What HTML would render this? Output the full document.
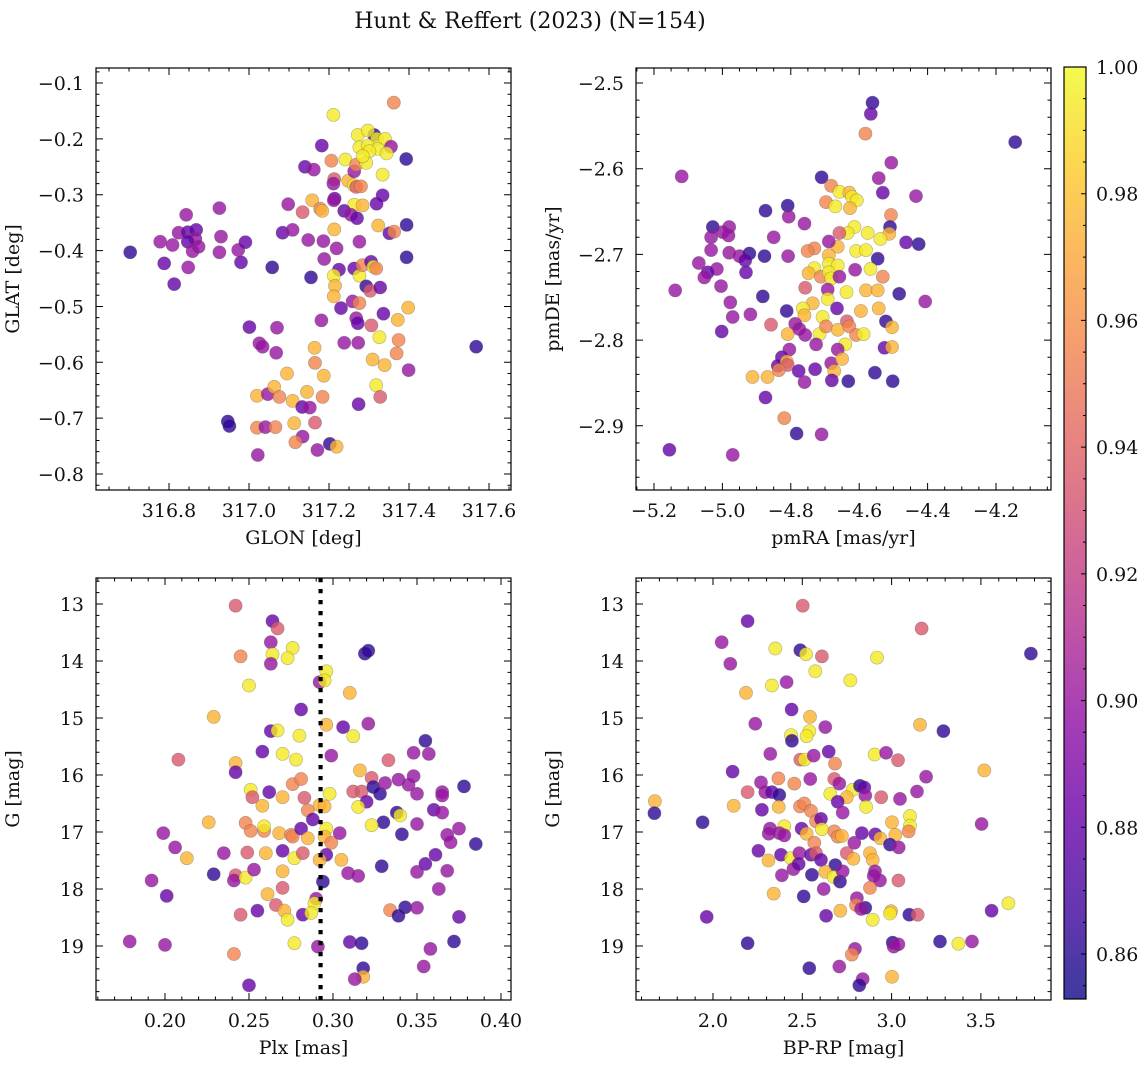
<!DOCTYPE html>
<html><head><meta charset="utf-8"><style>
html,body{margin:0;padding:0;background:#fff;}
svg{display:block;font-family:"DejaVu Serif","Liberation Serif",serif;}
</style></head><body>
<svg id="fig" width="1148" height="1067" viewBox="0 0 1148 1067" xmlns="http://www.w3.org/2000/svg">
<rect width="1148" height="1067" fill="#fff"/>
<text x="530" y="28" font-size="22" text-anchor="middle" fill="#111">Hunt &amp; Reffert (2023) (N=154)</text>
<defs>
<linearGradient id="plasma" x1="0" y1="1" x2="0" y2="0">
<stop offset="0" stop-color="#0d0887"/><stop offset="0.1" stop-color="#41049d"/><stop offset="0.2" stop-color="#6a00a8"/><stop offset="0.3" stop-color="#8f0da4"/><stop offset="0.4" stop-color="#b12a90"/><stop offset="0.5" stop-color="#cc4778"/><stop offset="0.6" stop-color="#e16462"/><stop offset="0.7" stop-color="#f2844b"/><stop offset="0.8" stop-color="#fca636"/><stop offset="0.9" stop-color="#fcce25"/><stop offset="1" stop-color="#f0f921"/>
</linearGradient>
</defs>
</svg>
<script>
// ---- Panel 1: GLON vs GLAT ----
const glon=[316.703,316.788,316.813,316.778,316.809,316.824,316.843,316.847,316.868,316.866,316.847,316.859,316.874,316.848,316.926,316.930,316.926,316.973,316.991,316.980,317.058,317.001,317.070,317.026,317.034,317.068,316.947,316.951,317.022,317.020,317.047,317.063,317.076,317.095,317.109,317.133,317.152,317.145,317.184,317.020,317.041,317.066,317.113,317.134,317.116,317.165,317.171,317.202,317.219,317.164,317.165,317.187,317.181,317.084,317.098,317.109,317.134,317.148,317.155,317.140,317.162,317.182,317.158,317.178,317.183,317.186,317.188,317.206,317.213,317.211,317.214,317.212,317.213,317.219,317.211,317.241,317.248,317.263,317.268,317.262,317.268,317.280,317.263,317.284,317.238,317.255,317.270,317.276,317.225,317.212,317.215,317.212,317.230,317.259,317.276,317.268,317.272,317.263,317.276,317.284,317.293,317.303,317.305,317.311,317.318,317.328,317.306,317.238,317.273,317.274,317.326,317.309,317.339,317.318,317.328,317.336,317.372,317.374,317.369,317.398,317.399,317.568,317.394,317.394,317.351,317.363,317.323,317.334,317.319,317.334,317.393,317.362,317.313,317.272,317.297,317.320,317.340,317.355,317.276,317.297,317.322,317.344,317.301,317.293,317.284];
const glat=[-0.403,-0.423,-0.460,-0.384,-0.390,-0.368,-0.336,-0.367,-0.363,-0.379,-0.384,-0.401,-0.393,-0.430,-0.324,-0.375,-0.403,-0.399,-0.385,-0.421,-0.430,-0.537,-0.538,-0.566,-0.572,-0.583,-0.706,-0.714,-0.766,-0.660,-0.657,-0.644,-0.662,-0.620,-0.669,-0.680,-0.681,-0.653,-0.662,-0.717,-0.716,-0.716,-0.709,-0.733,-0.743,-0.708,-0.757,-0.746,-0.751,-0.574,-0.601,-0.624,-0.525,-0.368,-0.317,-0.363,-0.331,-0.381,-0.448,-0.250,-0.255,-0.212,-0.310,-0.325,-0.329,-0.383,-0.415,-0.239,-0.272,-0.280,-0.307,-0.310,-0.362,-0.396,-0.157,-0.237,-0.275,-0.258,-0.246,-0.283,-0.286,-0.285,-0.318,-0.319,-0.329,-0.336,-0.342,-0.384,-0.434,-0.445,-0.463,-0.482,-0.503,-0.491,-0.494,-0.521,-0.530,-0.432,-0.445,-0.426,-0.464,-0.472,-0.420,-0.429,-0.432,-0.466,-0.534,-0.565,-0.565,-0.675,-0.555,-0.595,-0.605,-0.641,-0.662,-0.513,-0.524,-0.560,-0.584,-0.502,-0.614,-0.572,-0.354,-0.412,-0.369,-0.366,-0.355,-0.301,-0.316,-0.264,-0.236,-0.135,-0.193,-0.193,-0.185,-0.200,-0.200,-0.214,-0.215,-0.212,-0.218,-0.226,-0.222,-0.243,-0.231];
const prob1=[.862,.88,.88,.90,.90,.90,.90,.88,.88,.90,.88,.90,.90,.90,.90,.90,.90,.90,.88,.88,.862,.88,.90,.90,.90,.90,.862,.862,.90,.975,.90,.975,.955,.975,.975,.88,.90,.975,.955,.955,.90,.955,.975,.90,.955,.935,.90,.862,.975,.975,.955,.975,.90,.88,.90,.90,.935,.90,.862,.88,.90,.88,.975,.955,.975,.90,.90,.955,.935,.90,.88,.90,.975,.90,.995,.995,.975,.90,.955,.995,.935,.955,.995,.975,.88,.90,.88,.90,.88,.995,.975,.975,.88,.90,.955,.90,.88,.88,.995,.955,.862,.935,.88,.995,.955,.88,.935,.90,.90,.88,.995,.975,.975,.995,.935,.88,.975,.955,.955,.975,.90,.862,.862,.862,.88,.955,.975,.88,.88,.995,.862,.955,.862,.995,.995,.995,.995,.90,.995,.995,.995,.995,.995,.995,.995];
// ---- Panel 2: pmRA vs pmDE ----
const pmra=[-4.561,-4.566,-4.582,-4.144,-4.506,-5.119,-4.710,-4.543,-4.531,-4.434,-4.682,-4.658,-4.629,-4.621,-4.607,-4.697,-4.670,-4.627,-4.809,-4.874,-4.806,-4.760,-4.507,-4.510,-4.512,-4.538,-4.575,-4.614,-4.634,-4.658,-4.663,-4.689,-4.463,-4.426,-5.028,-4.980,-4.999,-5.033,-4.982,-4.850,-5.033,-4.980,-4.950,-4.921,-4.933,-4.877,-4.808,-4.731,-4.751,-4.689,-4.609,-4.580,-4.546,-5.069,-5.016,-5.043,-5.053,-4.931,-5.004,-5.138,-4.731,-4.748,-4.712,-4.689,-4.663,-4.689,-4.682,-4.658,-4.612,-4.567,-4.531,-4.758,-4.692,-4.637,-4.580,-4.546,-4.483,-4.407,-4.882,-4.692,-4.977,-4.736,-4.665,-4.765,-4.595,-4.543,-4.970,-4.918,-4.812,-4.760,-4.707,-4.787,-4.858,-4.636,-4.522,-4.504,-5.002,-4.809,-4.775,-4.758,-4.716,-4.697,-4.663,-4.629,-4.609,-4.587,-4.726,-4.641,-4.663,-4.526,-4.504,-4.804,-4.826,-4.838,-4.812,-4.809,-4.835,-4.912,-4.868,-4.777,-4.760,-4.729,-4.682,-4.673,-4.650,-4.680,-4.632,-4.554,-4.502,-4.874,-4.819,-4.783,-4.710,-5.155,-4.970];
const pmde=[-2.523,-2.536,-2.559,-2.569,-2.593,-2.609,-2.610,-2.611,-2.628,-2.632,-2.620,-2.627,-2.628,-2.633,-2.637,-2.639,-2.644,-2.646,-2.643,-2.649,-2.656,-2.664,-2.654,-2.668,-2.676,-2.682,-2.675,-2.668,-2.675,-2.675,-2.691,-2.685,-2.686,-2.688,-2.668,-2.668,-2.674,-2.680,-2.678,-2.680,-2.695,-2.698,-2.702,-2.699,-2.707,-2.702,-2.702,-2.693,-2.696,-2.701,-2.696,-2.695,-2.705,-2.710,-2.717,-2.721,-2.727,-2.721,-2.737,-2.742,-2.716,-2.722,-2.726,-2.711,-2.713,-2.721,-2.728,-2.726,-2.718,-2.717,-2.726,-2.739,-2.741,-2.744,-2.742,-2.742,-2.746,-2.755,-2.749,-2.752,-2.756,-2.757,-2.763,-2.763,-2.766,-2.763,-2.773,-2.770,-2.766,-2.771,-2.773,-2.781,-2.782,-2.778,-2.778,-2.785,-2.790,-2.793,-2.787,-2.794,-2.793,-2.784,-2.788,-2.784,-2.794,-2.793,-2.805,-2.805,-2.811,-2.809,-2.808,-2.811,-2.820,-2.830,-2.825,-2.829,-2.835,-2.843,-2.843,-2.836,-2.849,-2.834,-2.827,-2.836,-2.822,-2.847,-2.848,-2.838,-2.848,-2.867,-2.891,-2.909,-2.910,-2.928,-2.934];
const prob2=[.862,.88,.955,.862,.90,.90,.862,.90,.88,.90,.955,.995,.975,.995,.995,.955,.995,.975,.862,.862,.90,.90,.955,.862,.975,.995,.995,.995,.995,.935,.975,.90,.88,.862,.862,.90,.90,.90,.90,.90,.90,.90,.90,.862,.88,.862,.90,.955,.955,.975,.995,.995,.862,.90,.90,.88,.90,.88,.90,.90,.995,.975,.955,.995,.995,.995,.995,.90,.90,.995,.955,.935,.90,.995,.975,.975,.862,.90,.862,.995,.90,.975,.88,.995,.975,.975,.90,.90,.862,.975,.995,.90,.935,.935,.862,.975,.88,.975,.90,.90,.995,.955,.975,.955,.955,.995,.90,.995,.90,.88,.975,.90,.88,.88,.975,.935,.955,.975,.975,.88,.90,.88,.90,.975,.975,.88,.862,.862,.862,.88,.955,.862,.90,.88,.90];
// ---- Panel 3: Plx vs G ----
const plx=[0.242,0.264,0.267,0.263,0.264,0.276,0.273,0.263,0.245,0.250,0.296,0.292,0.295,0.319,0.321,0.310,0.229,0.281,0.263,0.267,0.280,0.296,0.306,0.321,0.312,0.208,0.258,0.270,0.278,0.299,0.333,0.355,0.348,0.357,0.242,0.242,0.316,0.323,0.276,0.281,0.251,0.262,0.252,0.270,0.258,0.283,0.285,0.288,0.292,0.295,0.298,0.312,0.317,0.324,0.328,0.331,0.339,0.345,0.348,0.350,0.365,0.365,0.378,0.320,0.315,0.338,0.340,0.330,0.360,0.365,0.323,0.226,0.248,0.251,0.259,0.259,0.268,0.275,0.276,0.281,0.285,0.296,0.295,0.299,0.304,0.350,0.341,0.368,0.370,0.375,0.385,0.199,0.206,0.213,0.235,0.249,0.260,0.270,0.277,0.282,0.296,0.292,0.305,0.361,0.355,0.329,0.229,0.242,0.241,0.248,0.253,0.270,0.309,0.315,0.350,0.368,0.294,0.192,0.201,0.261,0.270,0.266,0.271,0.273,0.290,0.289,0.282,0.287,0.255,0.245,0.334,0.343,0.339,0.350,0.363,0.375,0.179,0.200,0.241,0.277,0.291,0.310,0.317,0.372,0.358,0.354,0.318,0.318,0.313,0.250];
const gmag3=[13.03,13.30,13.43,13.67,13.88,13.77,13.95,14.05,13.92,14.43,14.18,14.37,14.34,13.87,13.82,14.56,14.98,14.85,15.23,15.22,15.31,15.12,15.16,15.10,15.32,15.73,15.59,15.63,15.73,15.66,15.74,15.40,15.61,15.63,15.79,15.95,15.92,16.05,16.16,16.07,16.26,16.30,16.39,16.39,16.54,16.40,16.62,16.78,16.53,16.55,16.33,16.29,16.29,16.21,16.33,16.14,16.08,16.17,16.02,16.33,16.30,16.36,16.20,16.47,16.56,16.66,16.71,16.83,16.61,16.66,16.88,16.83,16.84,16.98,16.98,16.90,17.02,17.05,17.08,16.94,17.11,16.94,17.08,17.19,17.02,16.86,17.04,17.05,17.18,16.94,17.21,17.02,17.27,17.46,17.37,17.36,17.37,17.33,17.46,17.37,17.40,17.49,17.49,17.40,17.56,17.60,17.74,17.76,17.85,17.80,17.66,17.69,17.72,17.77,17.70,17.68,17.87,17.85,18.12,18.09,17.98,18.28,18.38,18.54,18.17,18.25,18.45,18.42,18.38,18.45,18.37,18.32,18.47,18.33,18.00,18.49,18.92,18.98,19.14,18.95,19.01,18.93,18.95,18.92,19.05,19.36,19.39,19.54,19.58,19.69];
const prob3=[.935,.88,.935,.90,.995,.995,.995,.90,.955,.995,.995,.90,.995,.862,.862,.975,.975,.88,.88,.995,.995,.975,.88,.90,.995,.935,.88,.995,.995,.90,.935,.862,.90,.90,.975,.88,.975,.935,.955,.955,.995,.88,.935,.975,.975,.935,.955,.88,.975,.975,.995,.935,.935,.862,.862,.90,.90,.90,.90,.90,.90,.90,.862,.88,.995,.862,.995,.862,.88,.90,.995,.975,.955,.955,.955,.995,.975,.955,.955,.88,.975,.995,.975,.955,.90,.90,.862,.90,.90,.90,.862,.90,.90,.975,.90,.935,.975,.88,.995,.935,.88,.975,.975,.88,.88,.862,.862,.935,.90,.995,.90,.975,.90,.90,.90,.90,.862,.90,.88,.975,.935,.935,.975,.995,.90,.995,.88,.995,.88,.935,.955,.862,.862,.90,.90,.88,.90,.90,.955,.995,.90,.88,.862,.862,.90,.90,.862,.975,.90,.88];
const plxRef=[0.2926];
// ---- Panel 4: BP-RP vs G ----
const bprp=[2.502,2.194,2.049,2.097,3.168,2.349,2.489,2.521,2.610,2.918,3.780,2.573,2.769,2.330,2.412,2.185,2.440,2.237,2.543,3.159,2.629,3.290,2.437,2.442,2.539,2.524,2.321,2.489,2.513,2.564,2.648,2.683,2.905,2.969,3.036,3.519,2.110,2.269,2.366,2.455,2.545,2.679,2.707,2.194,2.293,2.330,2.371,2.657,2.782,2.749,2.823,2.847,2.853,2.942,3.047,3.193,3.142,1.675,1.672,2.116,2.274,2.368,2.487,2.511,2.549,2.698,2.726,2.857,1.942,2.577,2.605,3.002,3.103,3.103,3.095,3.504,2.399,2.319,2.312,2.371,2.399,2.496,2.524,2.610,2.679,2.698,2.722,2.834,2.909,2.937,3.021,2.567,2.791,2.991,3.040,2.254,2.381,2.437,2.484,2.549,2.577,2.605,2.749,2.786,2.879,2.894,2.310,2.450,2.480,2.685,2.629,2.676,2.711,2.726,2.907,2.900,2.935,3.038,2.386,2.554,2.620,2.879,2.340,2.508,2.806,2.801,2.853,2.829,2.713,2.894,2.633,2.997,2.991,3.099,3.146,1.965,3.654,3.560,2.194,3.006,3.012,3.038,3.271,3.374,3.450,2.795,2.778,2.539,2.707,3.002,2.838,2.819];
const gmag4=[13.03,13.30,13.67,14.05,13.43,13.78,13.81,13.88,13.92,13.94,13.87,14.18,14.34,14.43,14.37,14.56,14.85,15.10,14.98,15.12,15.16,15.23,15.30,15.40,15.23,15.32,15.63,15.73,15.73,15.66,15.59,15.80,15.64,15.61,15.74,15.92,15.94,16.13,16.06,16.15,16.07,16.07,16.15,16.30,16.30,16.30,16.35,16.33,16.26,16.39,16.19,16.22,16.36,16.39,16.42,16.03,16.29,16.46,16.67,16.54,16.61,16.56,16.55,16.50,16.63,16.47,16.66,16.56,16.83,16.81,16.77,16.83,16.72,16.89,16.99,16.86,16.90,16.94,17.03,17.02,17.06,16.94,17.03,16.95,16.99,17.08,17.07,17.02,17.04,17.11,17.05,17.19,17.19,17.22,17.27,17.33,17.40,17.46,17.37,17.40,17.37,17.49,17.37,17.47,17.37,17.49,17.50,17.65,17.56,17.58,17.70,17.79,17.87,17.69,17.69,17.77,17.85,17.85,17.76,17.75,18.00,17.98,18.08,18.13,18.16,18.28,18.33,18.35,18.38,18.54,18.47,18.39,18.43,18.45,18.45,18.49,18.25,18.38,18.95,18.94,19.01,18.97,18.92,18.96,18.92,19.05,19.15,19.39,19.36,19.54,19.58,19.69];
const prob4=[.935,.88,.90,.90,.935,.995,.862,.995,.935,.995,.862,.995,.995,.995,.90,.975,.88,.90,.975,.975,.90,.862,.995,.862,.995,.995,.90,.935,.995,.90,.88,.955,.995,.90,.935,.975,.88,.90,.955,.955,.90,.935,.90,.935,.90,.88,.862,.995,.995,.975,.862,.88,.90,.935,.90,.90,.90,.975,.862,.975,.88,.975,.955,.955,.955,.88,.90,.995,.862,.955,.88,.975,.995,.995,.955,.90,.995,.90,.90,.90,.90,.88,.975,.995,.955,.955,.975,.88,.88,.975,.975,.955,.90,.862,.90,.88,.88,.995,.90,.88,.935,.88,.935,.975,.975,.975,.975,.90,.88,.862,.975,.995,.862,.90,.90,.90,.90,.935,.90,.862,.90,.955,.975,.862,.90,.955,.862,.90,.975,.995,.88,.975,.995,.862,.935,.88,.995,.88,.862,.862,.90,.90,.862,.995,.90,.90,.955,.862,.90,.975,.90,.862];
const cbTicks=[0.86,0.88,0.90,0.92,0.94,0.96,0.98,1.00];
const cMin=0.8529, cMax=1.0;

const NS='http://www.w3.org/2000/svg';
const svg=document.getElementById('fig');
const FS=19;
function el(tag,attrs,parent){const e=document.createElementNS(NS,tag);for(const k in attrs)e.setAttribute(k,attrs[k]);(parent||svg).appendChild(e);return e;}
const stops=[[13,8,135],[65,4,157],[106,0,168],[143,13,164],[177,42,144],[204,71,120],[225,100,98],[242,132,75],[252,166,54],[252,206,37],[240,249,33]];
function plasma(c){let t=(c-cMin)/(cMax-cMin);t=Math.max(0,Math.min(1,t))*10;const i=Math.min(9,Math.floor(t)),f=t-i;const a=stops[i],b=stops[i+1];return 'rgb('+a.map((v,k)=>Math.round(v+(b[k]-v)*f)).join(',')+')';}
function ticks(lo,hi,step){const out=[];let s=Math.ceil(Math.min(lo,hi)/step-1e-6);for(let v=s*step;v<=Math.max(lo,hi)+1e-9;v=(++s)*step)out.push(+v.toFixed(6));return out;}
function fmt(v,d){const s=Math.abs(v).toFixed(d);return (v<0?'\u2212':'')+s;}

function panel(o){
  const g=el('g',{});
  
  
  const X=v=>o.x0+(v-o.xd[0])/(o.xd[1]-o.xd[0])*(o.x1-o.x0);
  const Y=v=>o.y0+(v-o.yd[0])/(o.yd[1]-o.yd[0])*(o.y1-o.y0);
  const pg=el('g',{},g);
  
  
  const n=Math.min(o.xs.length,o.ys.length,o.cs.length);
  for(let i=0;i<n;i++){
    const p=el('circle',{cx:X(o.xs[i]).toFixed(1),cy:Y(o.ys[i]).toFixed(1),r:6.6,fill:plasma(o.cs[i]),'fill-opacity':0.8,stroke:'rgba(90,90,90,0.45)','stroke-width':0.6},pg);
    
    
  }
  if(o.vline){for(const v of o.vline){const l=el('line',{x1:X(v),x2:X(v),y1:o.y0,y2:o.y1,stroke:'#000','stroke-width':4.2,'stroke-dasharray':'4.2 6.8'},g);
    
    }}
  const fr=el('rect',{x:o.x0,y:o.y0,width:o.x1-o.x0,height:o.y1-o.y0,fill:'none',stroke:'#000','stroke-width':1.2},g);
  
  
  let d='';
  for(const v of ticks(o.xd[0],o.xd[1],o.xmin)){const x=X(v);d+=`M${x} ${o.y1}v-3.5M${x} ${o.y0}v3.5`;}
  for(const v of ticks(o.yd[0],o.yd[1],o.ymin)){const y=Y(v);d+=`M${o.x0} ${y}h3.5M${o.x1} ${y}h-3.5`;}
  for(const v of ticks(o.xd[0],o.xd[1],o.xmaj)){const x=X(v);d+=`M${x} ${o.y1}v-7M${x} ${o.y0}v7`;}
  for(const v of ticks(o.yd[0],o.yd[1],o.ymaj)){const y=Y(v);d+=`M${o.x0} ${y}h7M${o.x1} ${y}h-7`;}
  el('path',{d:d,stroke:'#000','stroke-width':1,fill:'none'},g);
  for(const v of ticks(o.xd[0],o.xd[1],o.xmaj)){const t=el('text',{x:X(v),y:o.y1+27,'font-size':FS,'text-anchor':'middle',fill:'#111'},g);t.textContent=fmt(v,o.xdec);
    
    }
  for(const v of ticks(o.yd[0],o.yd[1],o.ymaj)){const t=el('text',{x:o.x0-12,y:Y(v)+7,'font-size':FS,'text-anchor':'end',fill:'#111'},g);t.textContent=fmt(v,o.ydec);
    
    }
  const xt=el('text',{x:(o.x0+o.x1)/2,y:o.y1+54,'font-size':FS,'text-anchor':'middle',fill:'#111'},g);xt.textContent=o.xl;
  
  
  const yx=o.x0-77,yy=(o.y0+o.y1)/2;
  const yt=el('text',{x:yx,y:yy,'font-size':FS,'text-anchor':'middle',transform:`rotate(-90 ${yx} ${yy})`,fill:'#111'},g);yt.textContent=o.yl;
  
  
}
panel({name:'glon-glat-panel',x0:96,x1:511,y0:68,y1:490,xd:[316.6175,317.655],yd:[-0.0731,-0.8286],xs:glon,ys:glat,cs:prob1,xmaj:0.2,xmin:0.05,ymaj:0.1,ymin:0.02,xdec:1,ydec:1,xl:'GLON [deg]',yl:'GLAT [deg]'});
panel({name:'proper-motion-panel',x0:636,x1:1051,y0:68,y1:490,xd:[-5.2526,-4.0392],yd:[-2.4825,-2.9749],xs:pmra,ys:pmde,cs:prob2,xmaj:0.2,xmin:0.05,ymaj:0.1,ymin:0.02,xdec:1,ydec:1,xl:'pmRA [mas/yr]',yl:'pmDE [mas/yr]'});
panel({name:'parallax-mag-panel',x0:96,x1:511,y0:578,y1:1000,xd:[0.15893,0.40595],yd:[12.544,19.947],xs:plx,ys:gmag3,cs:prob3,xmaj:0.05,xmin:0.01,ymaj:1,ymin:0.2,xdec:2,ydec:0,xl:'Plx [mas]',yl:'G [mag]',vline:plxRef});
panel({name:'color-mag-panel',x0:636,x1:1051,y0:578,y1:1000,xd:[1.5689,3.8925],yd:[12.544,19.947],xs:bprp,ys:gmag4,cs:prob4,xmaj:0.5,xmin:0.1,ymaj:1,ymin:0.2,xdec:1,ydec:0,xl:'BP-RP [mag]',yl:'G [mag]'});

const cb=el('g',{});


const cbx0=1064,cbx1=1086,cby0=67,cby1=999;
const CY=v=>cby1-(v-cMin)/(cMax-cMin)*(cby1-cby0);
el('rect',{x:cbx0,y:cby0,width:cbx1-cbx0,height:cby1-cby0,fill:'url(#plasma)','fill-opacity':0.8},cb);
el('rect',{x:cbx0,y:cby0,width:cbx1-cbx0,height:cby1-cby0,fill:'none',stroke:'#000','stroke-width':1.2},cb);
let cd='';
for(const v of ticks(cMin,cMax,0.005)){cd+=`M${cbx1} ${CY(v)}h-3`;}
for(const v of cbTicks){cd+=`M${cbx1} ${CY(v)}h-5`;}
el('path',{d:cd,stroke:'#000','stroke-width':1},cb);
for(const v of cbTicks){const t=el('text',{x:1096,y:CY(v)+7,'font-size':FS,fill:'#111'},cb);t.textContent=v.toFixed(2);
  
  }
</script>
</body></html>
